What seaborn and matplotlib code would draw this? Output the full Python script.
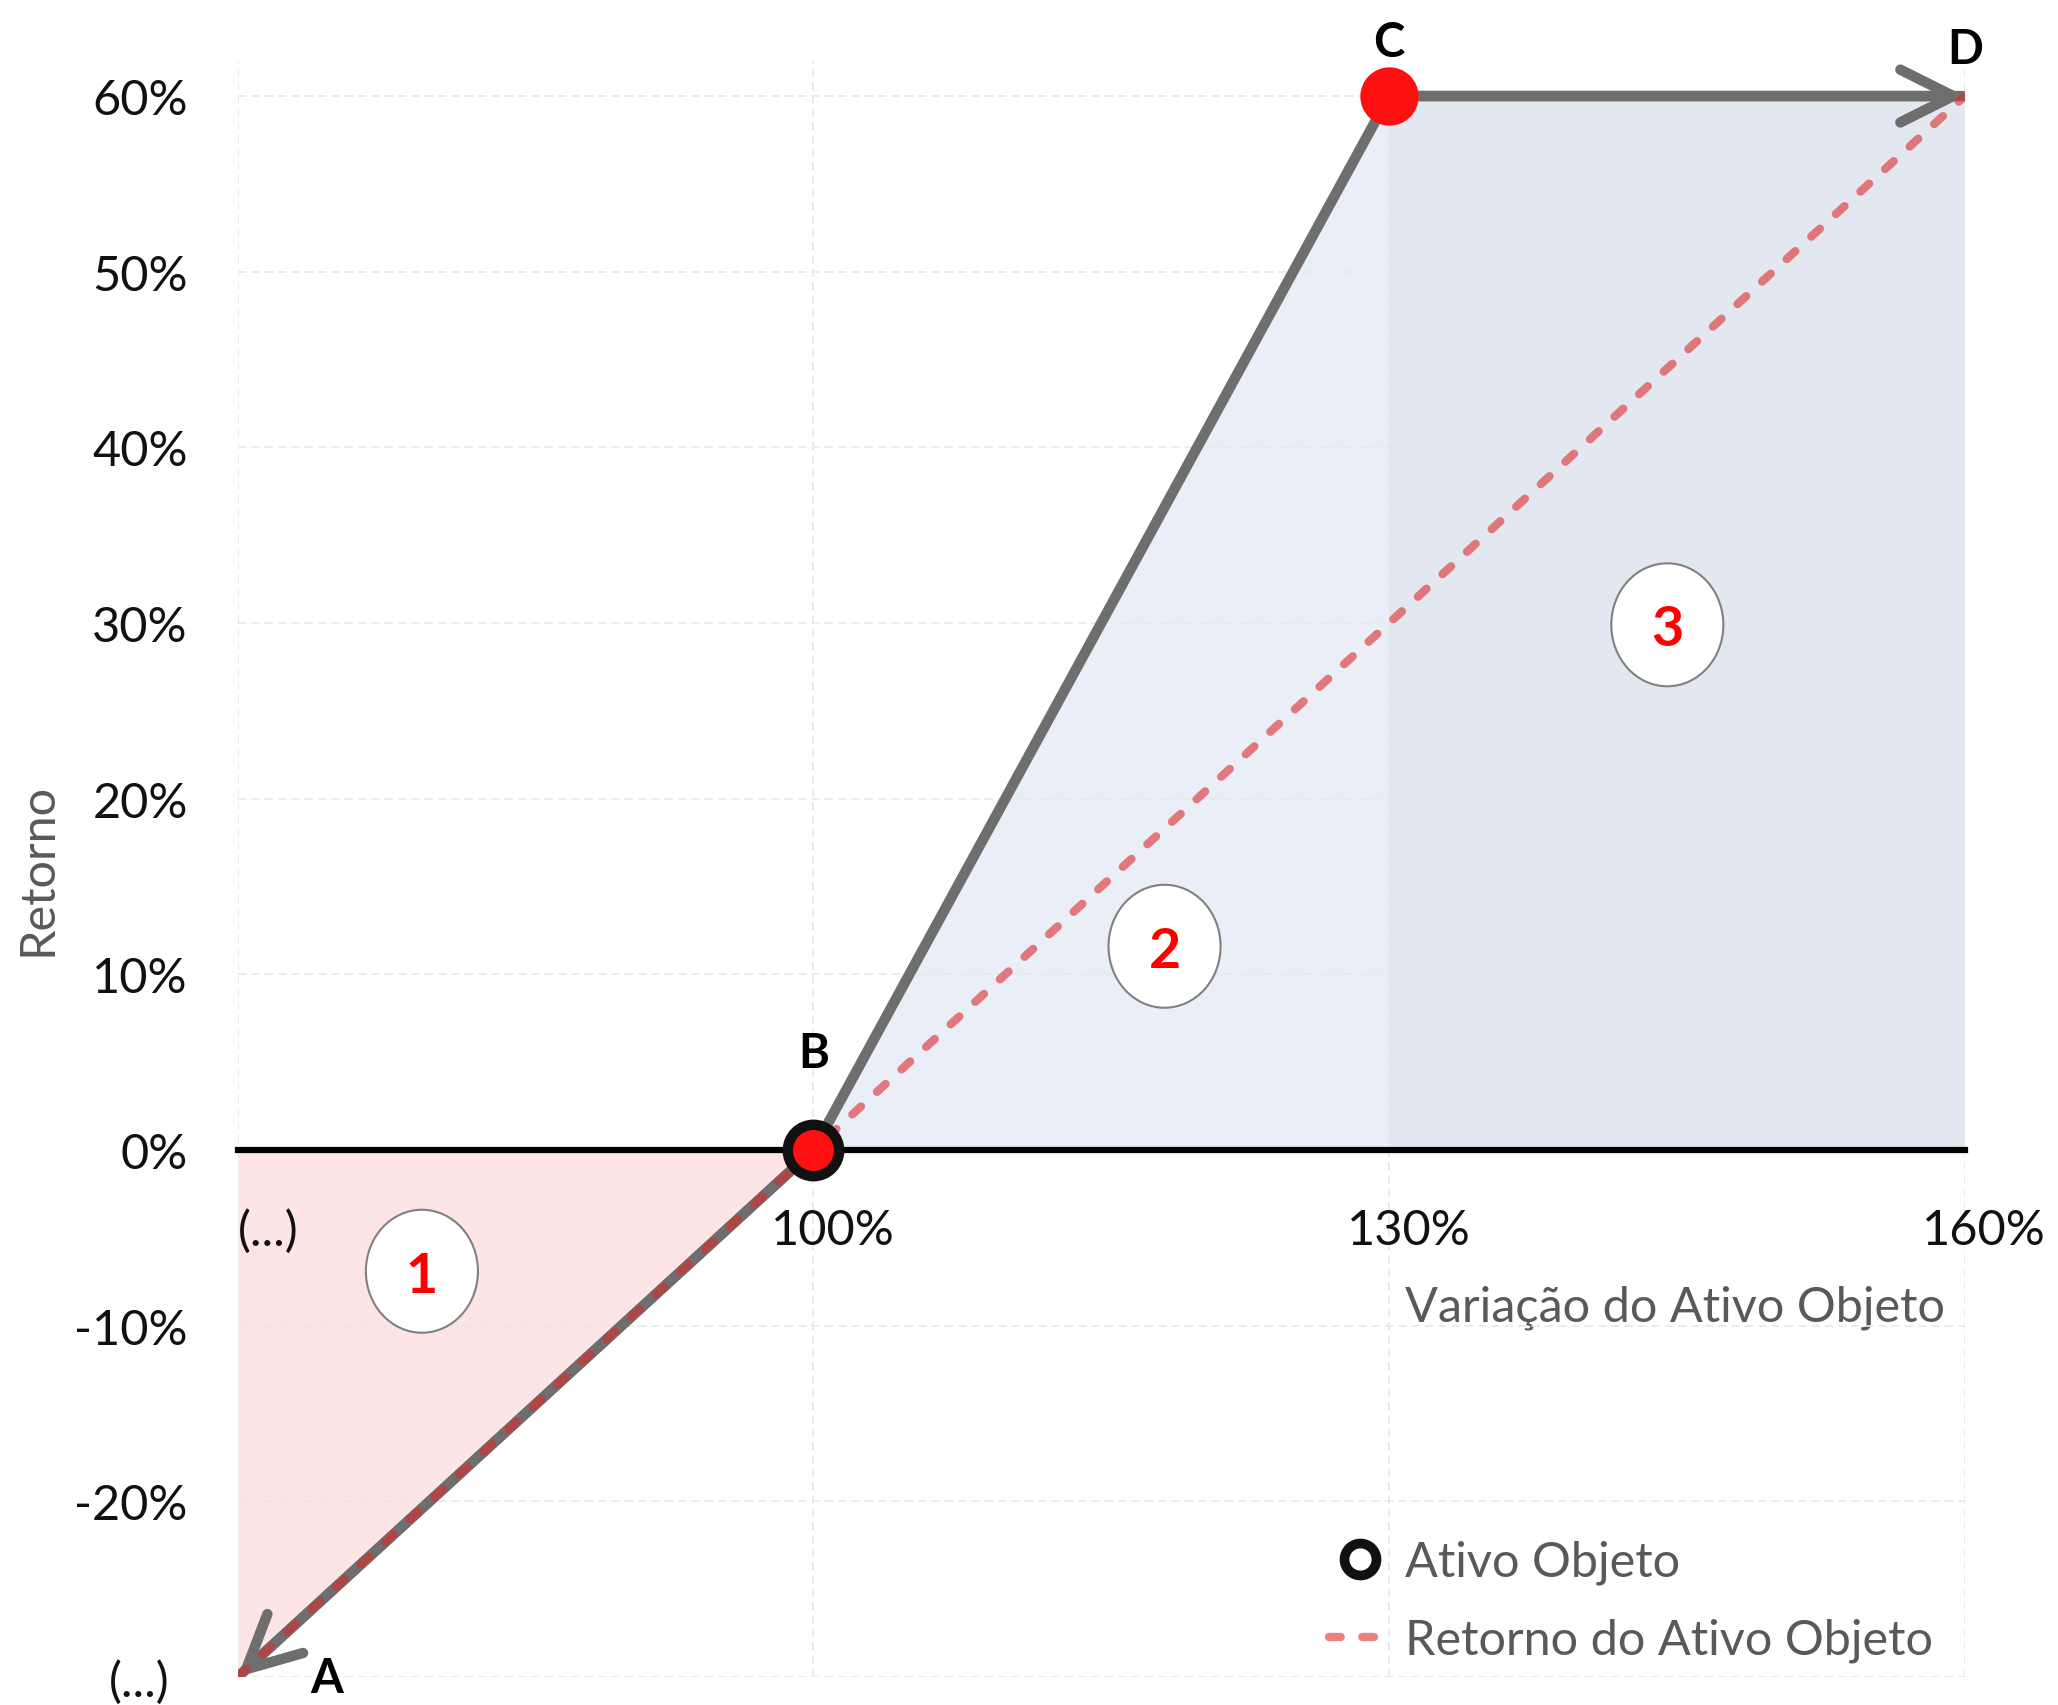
import numpy as np
import pandas as pd
import matplotlib.pyplot as plt
import matplotlib.transforms as mtransforms
from matplotlib.lines import Line2D
from matplotlib.patches import Ellipse
import seaborn as sns

# values in percent
asset_level = [70, 100, 130, 160]          # Variação do Ativo Objeto
payoff = [-30, 0, 60, 60]                  # structure return at A, B, C, D
asset_return = [-30, 0, 30, 60]            # Retorno do Ativo Objeto
point_names = ['A', 'B', 'C', 'D']
x_tick_labels = ['(...)', '100%', '130%', '160%']
y_ticks = [-30, -20, -10, 0, 10, 20, 30, 40, 50, 60]
y_tick_labels = ['(...)', '-20%', '-10%', '0%', '10%', '20%', '30%', '40%', '50%', '60%']
zone_names = ['1', '2', '3']
zone_x = [79.6, 118.3, 144.5]
zone_y = [-6.9, 11.6, 29.9]

GREY = '#6e6e6e'
RED_LINE = '#dd2b2b'
TEXT_GREY = '#595959'
DASH = (0, (1.4, 2.6))

sns.set_theme(style='white')
plt.rcParams['font.family'] = ['Lato', 'DejaVu Sans']

fig = plt.figure(figsize=(20.58, 17.06), dpi=100)
ax = fig.add_axes([0.1155, 0.0164, 0.8392, 0.9473])

# shaded zones
ax.fill_between(asset_level[0:2], asset_return[0:2], 0, color='#fde4e5', lw=0, zorder=0.3)
ax.fill_between(asset_level[1:3], payoff[1:3], 0, color='#e9eef7', lw=0, zorder=0.3)
ax.fill_between(asset_level[2:4], payoff[2:4], 0, color='#e3e7ef', lw=0, zorder=0.3)

# payoff line with arrow ends
sns.lineplot(x=asset_level, y=payoff, color=GREY, lw=7.5, ax=ax, zorder=3,
             solid_joinstyle='miter', solid_capstyle='butt')
arrow_kw = dict(arrowstyle='->,head_length=2.0,head_width=1.0', color=GREY, lw=7.5,
                mutation_scale=19, shrinkA=0, shrinkB=0, capstyle='round', joinstyle='miter')
ax.annotate('', xy=(asset_level[0], payoff[0]), xytext=(asset_level[1], payoff[1]),
            arrowprops=arrow_kw, annotation_clip=False, zorder=3)
ax.annotate('', xy=(asset_level[3], payoff[3]), xytext=(asset_level[2], payoff[2]),
            arrowprops=arrow_kw, annotation_clip=False, zorder=3)

# underlying return
sns.lineplot(x=asset_level, y=asset_return, color=RED_LINE, alpha=0.6, lw=6, ax=ax, zorder=4,
             linestyle=DASH, dash_capstyle='round')

# points B and C
sns.scatterplot(x=[asset_level[2]], y=[payoff[2]], s=42 ** 2, color='#ff1010', linewidth=0,
                ax=ax, zorder=6, clip_on=False)
sns.scatterplot(x=[asset_level[1]], y=[payoff[1]], s=37 ** 2, color='#ff1010', edgecolor='#111111',
                linewidth=7.5, ax=ax, zorder=6, clip_on=False)

# point letters
letter_offsets = [(64, -1), (0, 70), (0, 39), (0, 34)]
for name, xv, yv, off in zip(point_names, asset_level, payoff, letter_offsets):
    ax.annotate(name, (xv, yv), xytext=off, textcoords='offset points', ha='center', va='center',
                fontsize=34, fontweight='bold', color='black', annotation_clip=False, zorder=7)

# numbered zones
for name, zx, zy in zip(zone_names, zone_x, zone_y):
    ax.add_patch(Ellipse((zx, zy), 5.84, 7.0, facecolor='white', edgecolor='#808080', lw=1.5, zorder=5))
    ax.text(zx, zy, name, ha='center', va='center_baseline', color='#ff0000', fontsize=40,
            fontweight='bold', zorder=6)

ax.set_xlim(70, 160)
ax.set_ylim(-30, 62)
ax.set_xticks(asset_level, x_tick_labels)
ax.set_yticks(y_ticks, y_tick_labels)
ax.tick_params(axis='both', length=0, labelsize=35, labelcolor='#111111')
ax.tick_params(axis='y', pad=36)
ax.tick_params(axis='x', pad=42)
ax.grid(True, color='#e8e8e8', linestyle=(0, (5, 3)), linewidth=1.2)

for side in ['left', 'top', 'right']:
    ax.spines[side].set_visible(False)
ax.spines['bottom'].set_position(('data', 0))
ax.spines['bottom'].set_color('black')
ax.spines['bottom'].set_linewidth(4.5)
ax.spines['bottom'].set_zorder(2.6)

ax.set_xlabel('Variação do Ativo Objeto', fontsize=35, color=TEXT_GREY, ha='right')
ax.xaxis.set_label_coords(0.9885, 0.2426)
ax.set_ylabel('Retorno', fontsize=35, color=TEXT_GREY)
ax.yaxis.set_label_coords(-0.103, 0.5006)

handles = [Line2D([], [], marker='o', ls='none', markersize=23, markerfacecolor='white',
                  markeredgecolor='#111111', markeredgewidth=7),
           Line2D([], [], color=RED_LINE, alpha=0.6, lw=6, linestyle=DASH,
                  dash_capstyle='round')]
ax.legend(handles, ['Ativo Objeto', 'Retorno do Ativo Objeto'], loc='upper left',
          bbox_to_anchor=(0.632, 0.085), frameon=False, borderpad=0, borderaxespad=0,
          fontsize=35, labelcolor=TEXT_GREY, handlelength=1.25, handletextpad=0.31,
          labelspacing=0.69)

# nudge tick labels like the original
xlabels = ax.get_xticklabels()
xlabels[0].set_ha('left')
shift = mtransforms.ScaledTranslation(14 / 72, 0, fig.dpi_scale_trans)
for lab in xlabels[1:]:
    lab.set_transform(lab.get_transform() + shift)
ylabels = ax.get_yticklabels()
ylabels[0].set_transform(ylabels[0].get_transform() +
                         mtransforms.ScaledTranslation(-13 / 72, 0, fig.dpi_scale_trans))

fig.savefig('out.png', dpi=100)
